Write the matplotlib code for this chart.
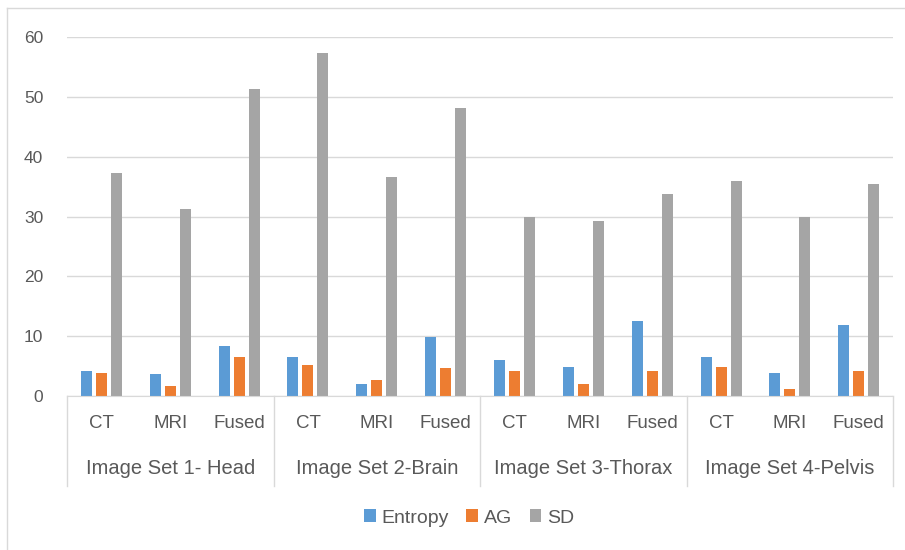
import matplotlib.pyplot as plt
import matplotlib.transforms as mtransforms
from matplotlib.patches import Patch
import numpy as np

# --- data ---
groups = ['Image Set 1- Head', 'Image Set 2-Brain', 'Image Set 3-Thorax', 'Image Set 4-Pelvis']
modalities = ['CT', 'MRI', 'Fused']
entropy = [4.2, 3.6, 8.4, 6.5, 2.0, 9.9, 6.1, 4.9, 12.5, 6.5, 3.9, 11.9]
ag = [3.9, 1.7, 6.5, 5.2, 2.7, 4.6, 4.2, 2.0, 4.2, 4.9, 1.1, 4.2]
sd = [37.3, 31.2, 51.3, 57.3, 36.6, 48.1, 30.0, 29.3, 33.7, 36.0, 30.0, 35.4]
yticks = [0, 10, 20, 30, 40, 50, 60]

series = [('Entropy', entropy, '#5B9BD5'), ('AG', ag, '#ED7D31'), ('SD', sd, '#A5A5A5')]

plt.rcParams['font.family'] = ['Liberation Sans', 'DejaVu Sans']
text_color = '#595959'
line_color = '#D9D9D9'


def main():
    fig = plt.figure(figsize=(9.05, 5.5), dpi=100)
    ax = fig.add_axes([0.074, 0.28, 0.913, 0.6527])

    n = len(entropy)
    x = np.arange(n)
    bar_w = 0.16
    step = 0.218
    for i, (name, vals, color) in enumerate(series):
        ax.bar(x + (i - 1) * step, vals, width=bar_w, color=color, zorder=2)

    ax.set_xlim(-0.5, n - 0.5)
    ax.set_ylim(0, 60)
    ax.set_yticks(yticks)
    ax.set_yticklabels([str(t) for t in yticks], fontsize=12.5, color=text_color)
    ax.tick_params(axis='y', length=0, pad=17)
    ax.set_xticks([])
    ax.grid(axis='y', color=line_color, linewidth=1, zorder=0)
    for s in ['top', 'right', 'left']:
        ax.spines[s].set_visible(False)
    ax.spines['bottom'].set_color(line_color)

    # multi-level category axis
    trans = mtransforms.blended_transform_factory(ax.transData, fig.transFigure)
    for k in range(n):
        ax.text(k, 1 - 424 / 550, modalities[k % 3], transform=trans,
                ha='center', va='center', fontsize=13.5, color=text_color)
    for g, name in enumerate(groups):
        ax.text(g * 3 + 1, 1 - 469 / 550, name, transform=trans,
                ha='center', va='center', fontsize=14.5, color=text_color)
    for b in range(len(groups) + 1):
        ax.plot([b * 3 - 0.5, b * 3 - 0.5], [1 - 396 / 550, 1 - 486 / 550],
                transform=trans, color=line_color, linewidth=1, clip_on=False)

    # legend
    handles = [Patch(facecolor=c, label=nm) for nm, _, c in series]
    fig.legend(handles=handles, loc='center', bbox_to_anchor=(469 / 905, 1 - 518 / 550),
               ncol=3, frameon=False, fontsize=14, handlelength=0.6, handleheight=0.6,
               handletextpad=0.3, columnspacing=0.9, labelcolor=text_color)

    # outer border
    fig.add_artist(plt.Line2D([7 / 905, 1], [1 - 8 / 550] * 2, color=line_color,
                              linewidth=1, transform=fig.transFigure))
    fig.add_artist(plt.Line2D([7 / 905] * 2, [0, 1 - 8 / 550], color=line_color,
                              linewidth=1, transform=fig.transFigure))

    fig.savefig('out.png', dpi=100)


if __name__ == '__main__':
    main()
